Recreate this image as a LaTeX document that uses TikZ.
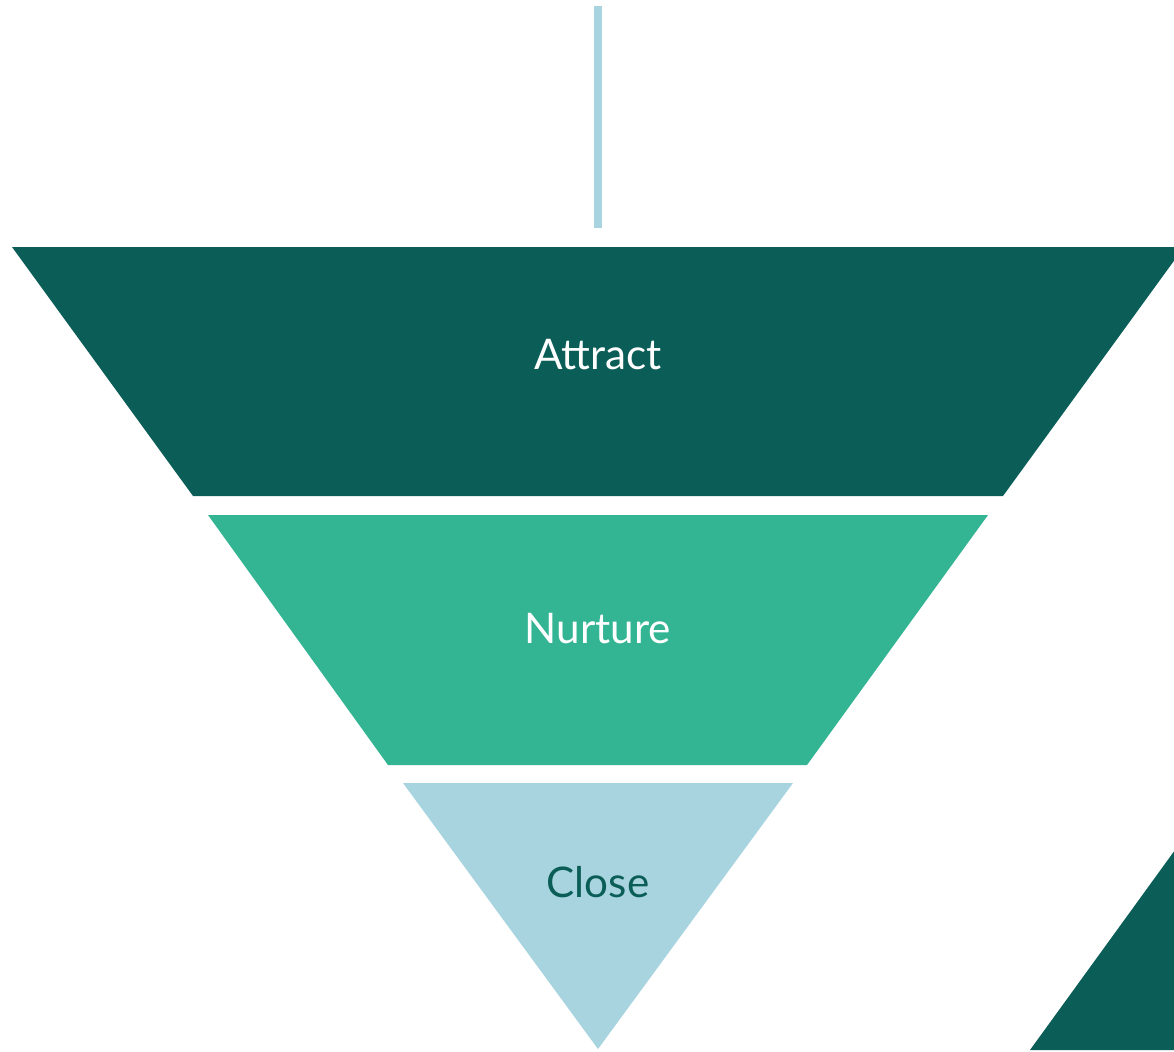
\documentclass[tikz,border=0pt]{standalone}
\usepackage{fontspec}
\setmainfont{Lato}
\usetikzlibrary{positioning}
\definecolor{funnelDark}{HTML}{0B5E58}
\definecolor{funnelMid}{HTML}{33B594}
\definecolor{funnelLight}{HTML}{A8D4DF}

\begin{document}
\begin{tikzpicture}
  [
    x=0.025cm, y=-0.025cm,
    Stage/.style={fill=#1, draw=none},
    Label/.style={text=#1, font=\fontsize{30}{36}\selectfont, inner sep=0pt},
    Stem/.style={draw=funnelLight, line width=5pt}
  ]
  \useasboundingbox (0,0) rectangle (1174,1051);
  \clip (0,0) rectangle (1174,1051);
  % Stages
  \fill[Stage=funnelDark] (12,247) -- (1184,247) -- (1003,496) -- (193,496) -- cycle;
  \fill[Stage=funnelMid] (208,515) -- (988,515) -- (807,765) -- (388,765) -- cycle;
  \fill[Stage=funnelLight] (403,783) -- (793,783) -- (598,1049) -- cycle;
  \fill[Stage=funnelDark] (1030,1050) -- (1175,850) -- (1180,850) -- (1180,1050) -- cycle;
  % Nodes
  \node[Label=white] (attract) at (598,355) {Attract};
  \node[Label=white] (nurture) at (598,629) {Nurture};
  \node[Label=funnelDark] (close) at (598,882) {Close};
  \coordinate (stemtop) at (598,6);
  \coordinate (stembot) at (598,228);
  % Lines
  \path[Stem] (stemtop) -- (stembot);
\end{tikzpicture}
\end{document}
